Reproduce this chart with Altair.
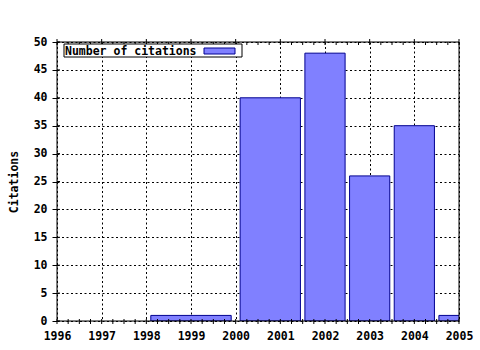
import altair as alt
import pandas as pd

# ---- data ----
years = [1999, 2001, 2002, 2003, 2004, 2005]
citations = [1, 40, 48, 26, 35, 1]
series_name = "Number of citations"
x_tick_years = list(range(1996, 2006))
y_tick_values = list(range(0, 51, 5))
x_minor_per_major = 4
y_title = "Citations"

# ---- layout / style ----
W, H = 402, 279
FONT = "DejaVu Sans Mono"
FS = 11.5
BAR_FILL = "#8080ff"
BAR_STROKE = "#000090"
BOX_REL = 0.9

# gnuplot-style automatic box widths (half way to neighbours, scaled by 0.9)
lefts, rights = [], []
for i, x in enumerate(years):
    lh = (x - years[i - 1]) / 2 if i > 0 else (years[i + 1] - x) / 2
    rh = (years[i + 1] - x) / 2 if i < len(years) - 1 else (x - years[i - 1]) / 2
    lefts.append(x - lh * BOX_REL)
    rights.append(x + rh * BOX_REL)

df = pd.DataFrame({"year": years, "x0": lefts, "x1": rights, "c": citations, "zero": 0})

minor_step = 1 / x_minor_per_major
all_x_ticks = [x_tick_years[0] + k * minor_step
               for k in range((x_tick_years[-1] - x_tick_years[0]) * x_minor_per_major + 1)]
ticks_df = pd.DataFrame({"t": all_x_ticks,
                         "major": [abs(t - round(t)) < 1e-9 for t in all_x_ticks]})
yticks_df = pd.DataFrame({"v": y_tick_values})

xscale = alt.Scale(domain=[x_tick_years[0], x_tick_years[-1]], nice=False, zero=False)
yscale = alt.Scale(domain=[y_tick_values[0], y_tick_values[-1]], nice=False)

xaxis = alt.Axis(values=x_tick_years, format="d", grid=True, gridDash=[2, 2.5],
                 gridColor="black", gridOpacity=1, domain=False, ticks=False,
                 labelPadding=9, labelFont=FONT, labelFontSize=FS, labelFontWeight="bold",
                 labelColor="black", labelFlush=False, labelOverlap=False, title=None, zindex=0)
yaxis = alt.Axis(values=y_tick_values, grid=True, gridDash=[2, 2.5],
                 gridColor="black", gridOpacity=1, domain=False, ticks=True, tickSize=5,
                 tickColor="black", labelPadding=5, labelFont=FONT, labelFontSize=FS,
                 labelFontWeight="bold", labelColor="black", labelFlush=False,
                 labelOverlap=False, title=y_title, titleFont=FONT, titleFontSize=FS,
                 titleFontWeight="bold", titleColor="black", titleAngle=270,
                 titleX=-40, titleY=H / 2, titleAlign="center",
                 titleBaseline="alphabetic", zindex=0)

X = lambda f: alt.X(f, scale=xscale, axis=xaxis, title=None)
Y = lambda f: alt.Y(f, scale=yscale, axis=yaxis, title=y_title)

bars = alt.Chart(df).mark_rect(fill=BAR_FILL, stroke=BAR_STROKE, strokeWidth=1, clip=True).encode(
    x=X("x0:Q"),
    x2="x1:Q",
    y=Y("c:Q"),
    y2="zero:Q",
)

bottom_ticks = alt.Chart(ticks_df).mark_rule(color="black", strokeWidth=1).encode(
    x=X("t:Q"), y=alt.value(H - 2), y2=alt.value(H + 3))
top_major = alt.Chart(ticks_df).transform_filter("datum.major").mark_rule(
    color="black", strokeWidth=1).encode(
    x=X("t:Q"), y=alt.value(-3), y2=alt.value(3))
top_minor = alt.Chart(ticks_df).transform_filter("!datum.major").mark_rule(
    color="black", strokeWidth=1).encode(
    x=X("t:Q"), y=alt.value(0), y2=alt.value(3))
left_in = alt.Chart(yticks_df).mark_rule(color="black", strokeWidth=1).encode(
    y=Y("v:Q"), x=alt.value(0), x2=alt.value(3))

one = pd.DataFrame({"k": [0]})
frame = alt.Chart(one).mark_rect(fill="white", fillOpacity=0, stroke="black", strokeWidth=1).encode(
    x=alt.value(0), x2=alt.value(W), y=alt.value(0), y2=alt.value(H))

legend_box = alt.Chart(one).mark_rect(fill="white", stroke="black", strokeWidth=1).encode(
    x=alt.value(7), x2=alt.value(185), y=alt.value(2), y2=alt.value(15))
legend_text = alt.Chart(one).mark_text(
    font=FONT, fontSize=FS, fontWeight="bold", color="black", align="left",
    baseline="alphabetic").encode(
    x=alt.value(8), y=alt.value(12.5), text=alt.value(series_name))
legend_swatch = alt.Chart(one).mark_rect(fill=BAR_FILL, stroke=BAR_STROKE, strokeWidth=1).encode(
    x=alt.value(147), x2=alt.value(178), y=alt.value(6), y2=alt.value(12))

chart = alt.layer(
    bars, bottom_ticks, top_major, top_minor, left_in, frame,
    legend_box, legend_text, legend_swatch
).properties(
    width=W, height=H,
    autosize=alt.AutoSizeParams(type="none"),
    padding={"left": 57, "top": 42, "right": 21, "bottom": 29},
).configure_view(stroke=None).configure(background="white")

chart.save("out.html", embed_options={"renderer": "svg", "actions": False})
